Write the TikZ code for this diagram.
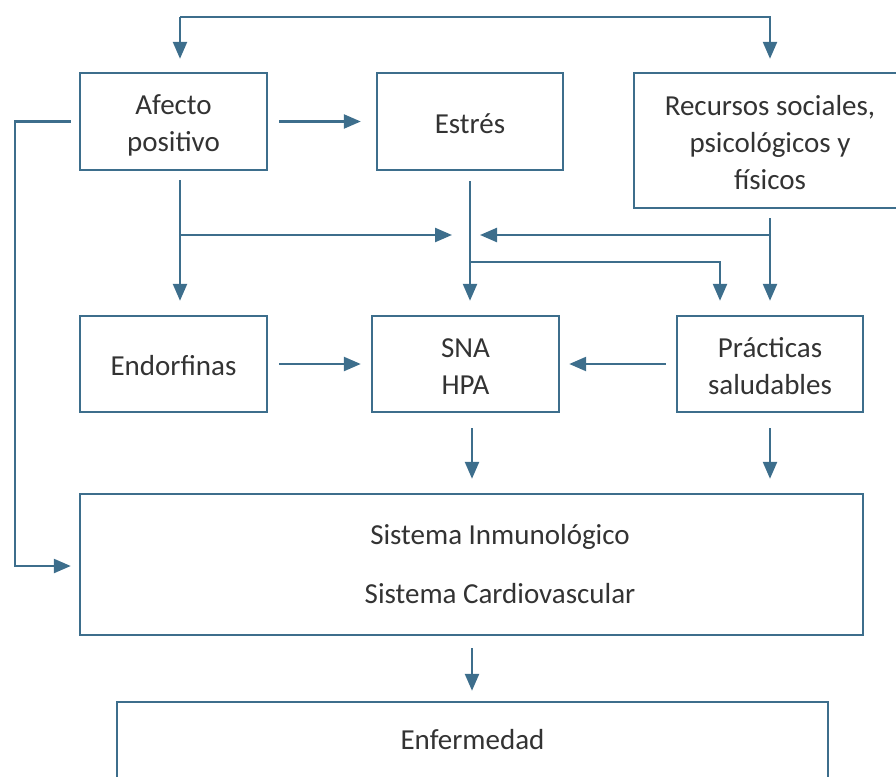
\documentclass[tikz,border=0pt]{standalone}
\usepackage{fontspec}
\setmainfont{Carlito}
\usetikzlibrary{arrows.meta}
\definecolor{ln}{HTML}{3D6E8C}
\definecolor{tx}{HTML}{333333}
\tikzset{
  box/.style={draw=ln, line width=2.4pt, inner sep=0pt},
  lbl/.style={inner sep=0pt, align=center, text=tx, font=\fontsize{29}{37}\selectfont},
  arr/.style={draw=ln, line width=2.4pt, -{Triangle[length=17pt,width=14pt]}}
}
\begin{document}
\begin{tikzpicture}[x=1pt,y=-1pt]
\useasboundingbox (0,0) rectangle (896,776);
\clip (0,0) rectangle (896,776);
% boxes
\node[box, minimum width=187, minimum height=97] (afecto) at (173.5,121.5) {};
\node[box, minimum width=186, minimum height=97] (estres) at (470,121.5) {};
\node[box, minimum width=272, minimum height=135] (recursos) at (770,140.5) {};
\node[box, minimum width=187, minimum height=96] (endorfinas) at (173.5,364) {};
\node[box, minimum width=187, minimum height=96] (sna) at (465.5,364) {};
\node[box, minimum width=186, minimum height=96] (practicas) at (770,364) {};
\node[box, minimum width=783, minimum height=141] (sistema) at (471.5,564.5) {};
\node[box, minimum width=711, minimum height=141] (enfermedad) at (472.5,772.5) {};
% texts
\node[lbl] (afectotext) at (173.5,125) {Afecto\\positivo};
\node[lbl] (estrestext) at (470,123.5) {Estrés};
\node[lbl] (recursostext) at (770,142.5) {Recursos sociales,\\psicológicos y\\físicos};
\node[lbl] (endorfinastext) at (173.5,366) {Endorfinas};
\node[lbl] (snatext) at (465.5,367) {SNA\\HPA};
\node[lbl] (practicastext) at (770,366.5) {Prácticas\\saludables};
\node[lbl] (sistematext) at (500,564.5) {Sistema Inmunológico\\[22pt]Sistema Cardiovascular};
\node[lbl] (enftext) at (472.5,740) {Enfermedad};
% coordinates
\coordinate (t1) at (180,17);
\coordinate (t2) at (770,17);
\coordinate (l1) at (15,121.5);
\coordinate (l2) at (15,566);
\coordinate (a1) at (180,180);
\coordinate (a2) at (180,235);
\coordinate (j1) at (452,235);
\coordinate (e1) at (470,181);
\coordinate (e2) at (470,262);
\coordinate (e3) at (720,262);
\coordinate (r1) at (770,218);
\coordinate (r2) at (770,235);
\coordinate (j2) at (480,235);
\coordinate (s1) at (472,428);
\coordinate (p1) at (770,428);
\coordinate (c1) at (472,648);
% connectors
\draw[arr, shorten >=13] (t1) -- (t1 |- afecto.north);
\draw[arr, shorten >=13] (t1) -- (t2) -- (t2 |- recursos.north);
\draw[arr] ([xshift=-8]afecto.west) -- (l1) -- (l2) -- ([xshift=-8]sistema.west |- l2);
\draw[arr] ([xshift=11]afecto.east) -- ([xshift=-15]estres.west);
\draw[arr, shorten >=14] (a1) -- (a1 |- endorfinas.north);
\draw[arr] (a2) -- (j1);
\draw[arr, shorten >=14] (e1) -- (e1 |- sna.north);
\draw[arr, shorten >=14] (e2) -- (e3) -- (e3 |- practicas.north);
\draw[arr, shorten >=14] (r1) -- (r1 |- practicas.north);
\draw[arr] (r2) -- (j2);
\draw[arr] ([xshift=11]endorfinas.east) -- ([xshift=-10]sna.west);
\draw[arr] ([xshift=-10]practicas.west) -- ([xshift=9]sna.east);
\draw[arr, shorten >=14] (s1) -- (s1 |- sistema.north);
\draw[arr, shorten >=14] (p1) -- (p1 |- sistema.north);
\draw[arr, shorten >=10] (c1) -- (c1 |- enfermedad.north);
\end{tikzpicture}
\end{document}
